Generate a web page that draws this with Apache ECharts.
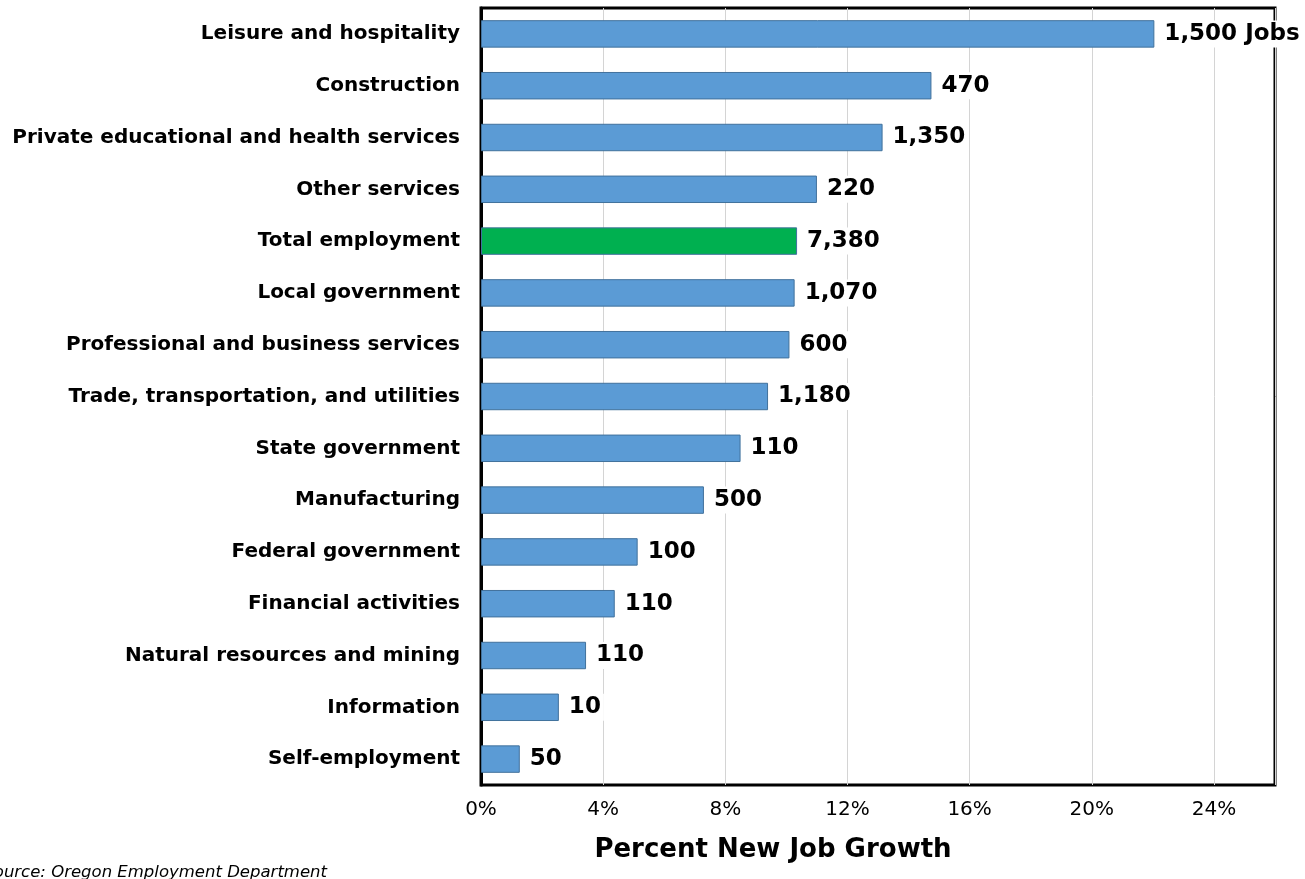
<!DOCTYPE html>
<html>
<head>
<meta charset="utf-8">
<script src="https://cdn.jsdelivr.net/npm/echarts@6/dist/echarts.min.js"></script>
<style>
  html, body { margin: 0; padding: 0; background: #fff; }
  #main { width: 1305px; height: 879px; }
</style>
</head>
<body>
<div id="main"></div>
<script>
// industries, top to bottom
const industries = [
    'Leisure and hospitality',
    'Construction',
    'Private educational and health services',
    'Other services',
    'Total employment',
    'Local government',
    'Professional and business services',
    'Trade, transportation, and utilities',
    'State government',
    'Manufacturing',
    'Federal government',
    'Financial activities',
    'Natural resources and mining',
    'Information',
    'Self-employment'
];
// percent new job growth
const growthPct = [22.05, 14.75, 13.15, 11.0, 10.35, 10.27, 10.1, 9.4, 8.5, 7.3, 5.13, 4.38, 3.44, 2.55, 1.27];
// new jobs shown at bar end
const jobLabels = ['1,500 Jobs', '470', '1,350', '220', '7,380', '1,070', '600', '1,180', '110', '500', '100', '110', '110', '10', '50'];
const xTicks = [0, 4, 8, 12, 16, 20, 24];

const FONT = '"DejaVu Sans", sans-serif';

const chart = echarts.init(document.getElementById('main'));

const barData = growthPct.map(function (v, i) {
    const isTotal = industries[i] === 'Total employment';
    return {
        value: v,
        itemStyle: { color: isTotal ? '#00b050' : '#5b9bd5' }
    };
});

const option = {
    backgroundColor: '#fff',
    animation: false,
    grid: {
        left: 481,
        right: 30,
        top: 8,
        bottom: 94,
        show: true,
        borderColor: '#000',
        borderWidth: 3,
        backgroundColor: 'transparent'
    },
    xAxis: {
        type: 'value',
        min: 0,
        max: 26,
        interval: 4,
        axisLine: { show: false },
        axisTick: { show: false },
        axisLabel: {
            margin: 15,
            color: '#000',
            fontSize: 20,
            fontFamily: FONT,
            formatter: function (v) {
                return xTicks.indexOf(v) >= 0 ? v + '%' : '';
            }
        },
        splitLine: { show: true, lineStyle: { color: '#d4d4d4', width: 1 } }
    },
    yAxis: {
        type: 'category',
        inverse: true,
        data: industries,
        axisLine: { show: true, lineStyle: { color: '#000', width: 3 } },
        axisTick: { show: false },
        axisLabel: {
            margin: 21,
            color: '#000',
            fontSize: 20,
            fontWeight: 'bold',
            fontFamily: FONT
        }
    },
    series: [{
        type: 'bar',
        data: barData,
        barWidth: '53%',
        itemStyle: {
            borderColor: '#41719c',
            borderWidth: 1
        },
        label: {
            show: true,
            position: 'right',
            distance: 7,
            color: '#000',
            fontSize: 23,
            fontWeight: 'bold',
            fontFamily: FONT,
            backgroundColor: '#fff',
            padding: [2, 3],
            formatter: function (p) {
                return jobLabels[p.dataIndex];
            }
        },
        z: 5
    }],
    graphic: [{
        type: 'text',
        x: 773,
        y: 850,
        style: {
            text: 'Percent New Job Growth',
            fill: '#000',
            font: 'bold 26px ' + FONT,
            align: 'center',
            verticalAlign: 'middle'
        }
    }, {
        type: 'text',
        x: 327,
        y: 881,
        style: {
            text: 'Source: Oregon Employment Department',
            fill: '#000',
            font: 'italic 16.5px ' + FONT,
            align: 'right',
            verticalAlign: 'bottom'
        }
    }]
};

chart.setOption(option);
</script>
</body>
</html>
